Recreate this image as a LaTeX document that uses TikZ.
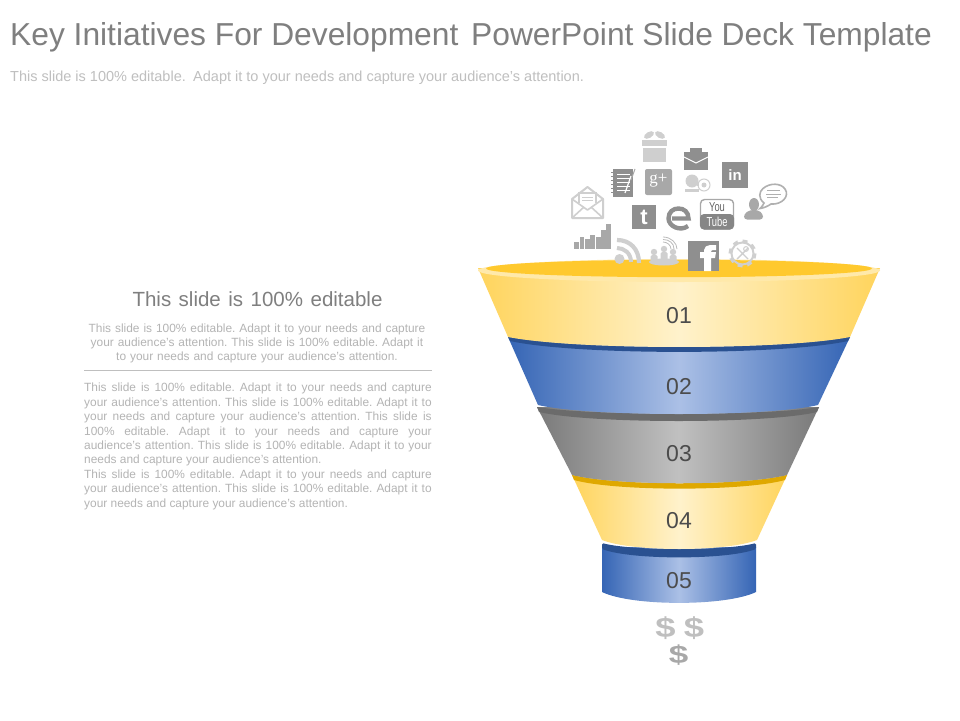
\documentclass[tikz,border=0pt]{standalone}
\usepackage{fontspec}
\usepackage{graphicx}
\setmainfont{Liberation Sans}
\newfontfamily\serifface{Liberation Serif}
\definecolor{ttl}{HTML}{7F7F7F}
\definecolor{sub}{HTML}{BFBFBF}
\definecolor{bodyc}{HTML}{B4B4B4}
\definecolor{ydge}{HTML}{FFD45C}
\definecolor{ymid}{HTML}{FFF2CC}
\definecolor{bdge}{HTML}{3565B5}
\definecolor{bmid}{HTML}{ABC0E6}
\definecolor{gdge}{HTML}{7A7A7A}
\definecolor{gmid}{HTML}{C0C0C0}
\definecolor{icd}{HTML}{8F8F8F}
\definecolor{icm}{HTML}{A8A8A8}
\definecolor{icl}{HTML}{CFCFCF}
\definecolor{lipy}{HTML}{DFA800}
\definecolor{rimy}{HTML}{FFC92E}
\tikzset{
  yband/.style={left color=ydge,right color=ydge,middle color=ymid},
  bband/.style={left color=bdge,right color=bdge,middle color=bmid},
  gband/.style={left color=gdge,right color=gdge,middle color=gmid},
  num/.style={text=black!70,font=\fontsize{23}{23}\selectfont},
  dollar/.style={inner sep=0pt,font=\fontsize{28}{28}\selectfont\bfseries},
  wline/.style={draw=white,line width=1pt},
  para/.style={text=bodyc,font=\fontsize{11.9}{14.4}\selectfont\frenchspacing,inner sep=0pt},
}
\begin{document}
\begin{tikzpicture}[x=1pt,y=-1pt]
\useasboundingbox (0,0) rectangle (960,720);
\fill[white] (0,0) rectangle (960,720);

% title block
\node[anchor=west,inner sep=0pt,text=ttl] (title) at (10,37.5) {\fontsize{31.75}{34}\selectfont Key Initiatives For Development\hspace{4pt} PowerPoint Slide Deck Template};
\node[anchor=west,inner sep=0pt,text=sub] (subtitle) at (10,77.5) {\fontsize{14.5}{16}\selectfont This slide is 100\% editable.\hspace{2pt} Adapt it to your needs and capture your audience’s attention.};

% left text
\node[text=ttl,inner sep=0pt] (head) at (257.5,299.5) {\fontsize{20.5}{22}\selectfont\spaceskip=7.5pt This slide is 100\% editable};
\node[para,text width=340pt,align=center] (lead) at (257,343.5) {This slide is 100\% editable. Adapt it to your needs and capture\\your audience's attention. This slide is 100\% editable. Adapt it\\to your needs and capture your audience's attention.};
\draw[sub,line width=1.2pt] (84,370.5) -- (431.5,370.5);
\node[para,text width=347.5pt,align=justify,anchor=north west] (body) at (84,383) {This slide is 100\% editable. Adapt it to your needs and capture\linebreak your audience's attention. This slide is 100\% editable. Adapt it to\linebreak your needs and capture your audience's attention. This slide is\linebreak 100\% editable. Adapt it to your needs and capture your\linebreak audience's attention. This slide is 100\% editable. Adapt it to your\linebreak needs and capture your audience's attention.\par
This slide is 100\% editable. Adapt it to your needs and capture\linebreak your audience's attention. This slide is 100\% editable. Adapt it to\linebreak your needs and capture your audience's attention.};

% funnel, bottom up
\path[bband] (602,547) -- (602,592) .. controls (632,606.5) and (726,606.5) .. (756,592) -- (756,547) -- cycle;
\fill[bdge!80!black,rounded corners=1.5pt] (602,543) .. controls (632,551) and (726,551) .. (756,543) -- (756,549) .. controls (726,560) and (632,560) .. (602,549) -- cycle;

\path[yband] (572,475) -- (602,540) .. controls (632,552) and (726,552) .. (757,540) -- (787,475) -- cycle;
\fill[fill=lipy] (572,475) .. controls (615,486) and (744,486) .. (787,475) -- (785,480) .. controls (744,491.5) and (615,491.5) .. (574,480) -- cycle;

\path[gband] (537,407) -- (572,475) .. controls (615,486) and (744,486) .. (787,475) -- (819,407) -- cycle;
\fill[black!58] (537,407) .. controls (590,416) and (768,416) .. (819,407) -- (817,412) .. controls (768,424) and (590,424) .. (539,412) -- cycle;

\path[bband] (508,337) -- (538,405) .. controls (590,417) and (768,417) .. (818,405) -- (850,337) -- cycle;
\fill[bdge!80!black] (508,337) .. controls (576,350.3) and (782,350.3) .. (850,337) -- (848,341) .. controls (782,355.5) and (576,355.5) .. (510,341) -- cycle;

\path[yband] (478,268) -- (508,337) .. controls (576,350.3) and (782,350.3) .. (850,337) -- (880,268) -- cycle;
\fill[ymid!70!ydge] (679,270.5) ellipse[x radius=201,y radius=11.5];
\fill[rimy] (679,268.5) ellipse[x radius=193,y radius=8.7];

\node[num] (n1) at (679,316) {01};
\node[num] (n2) at (679,387) {02};
\node[num] (n3) at (679,454) {03};
\node[num] (n4) at (679,521) {04};
\node[num] (n5) at (679,581) {05};

% dollars
\node[dollar,text=sub] (d1) at (665.5,628) {\scalebox{1.3}[1]{\$}};
\node[dollar,text=sub] (d2) at (694,628) {\scalebox{1.3}[1]{\$}};
\node[dollar,text=icm] (d3) at (678.5,655.5) {\scalebox{1.25}[.9]{\$}};

% gift
\fill[icl] (643,148) rectangle (666,162);
\fill[icl] (642,140) rectangle (667,146);
\fill[icl,rotate around={30:(649,135)}] (649,135) ellipse[x radius=5.5,y radius=3];
\fill[icl,rotate around={-30:(660,135)}] (660,135) ellipse[x radius=5.5,y radius=3];

% briefcase
\fill[icd] (684,152) rectangle (708,170);
\fill[icd] (690,148) rectangle (702,152);
\draw[wline] (684,157) -- (696,163) -- (708,157);

% linkedin
\fill[icd] (722,162) rectangle (748,188);
\node[text=white,inner sep=0pt] (lin) at (735,175.5) {\fontsize{15}{15}\selectfont\bfseries in};

% notebook
\fill[icd] (613,169) rectangle (633,197);
\foreach \yy in {172,176,180,184,188,192}{\draw[icd,line width=0.9pt] (611,\yy) -- (615,\yy);}
\foreach \yy in {174,178,182,186,190}{\draw[white,line width=.8pt] (617,\yy) -- (630,\yy);}
\draw[white,line width=1.2pt] (625,193) -- (631,176);
\draw[icm,line width=1pt] (631,180) -- (635,169);

% g+
\fill[icm,rounded corners=2pt] (645,169) rectangle (672,195);
\node[text=white,inner sep=0pt] (gp) at (658.5,181) {\fontsize{17}{17}\serifface g+};

% webcam
\fill[icl] (692,181) circle[radius=6.5];
\draw[icl,line width=1pt] (704,185) circle[radius=6];
\fill[icl] (704,185) circle[radius=2.5];
\draw[icl,line width=1.5pt] (697,185) -- (699,185);
\fill[icl] (685,189) rectangle (699,192);

% envelope
\draw[icl,line width=2pt,line join=round] (572,199) -- (587.5,187) -- (603,199) -- (603,218) -- (572,218) -- cycle;
\draw[icl,line width=1.6pt,line join=round] (572,199) -- (587.5,210) -- (603,199);
\draw[icl,line width=1.2pt] (579,203) -- (579,193) -- (596,193) -- (596,203);
\draw[icl,line width=1pt] (582,197) -- (593,197) (582,200) -- (593,200);
\draw[icl,line width=1.6pt] (572,218) -- (584,207) (603,218) -- (591,207);

% twitter
\fill[icd] (632,205) rectangle (656,229);
\node[text=white,inner sep=0pt] (tw) at (644,217) {\fontsize{22}{22}\selectfont\bfseries t};

% e logo
\draw[icd,line width=4.4pt] (688,226) .. controls (680,232) and (668.5,226) .. (668.5,218.5) .. controls (668.5,212) and (673,208.5) .. (678.5,208.5) .. controls (684,208.5) and (688.5,212) .. (688.5,218.5) -- (672,218.5);

% youtube
\fill[white,draw=icm,line width=1.4pt,rounded corners=4pt] (700.5,199.5) rectangle (733.5,229);
\fill[icm!80!black,rounded corners=4pt] (700,214) rectangle (734,229.5);
\node[text=black!60,inner sep=0pt] (you) at (717,207) {\scalebox{.72}[1]{\fontsize{13}{13}\selectfont You}};
\node[text=white,inner sep=0pt] (tube) at (717,221.5) {\scalebox{.72}[1]{\fontsize{13}{13}\selectfont Tube}};

% person + speech bubble
\fill[icm] (754,204.5) ellipse[x radius=5,y radius=6.5];
\fill[icm,rounded corners=3pt] (744,219.5) -- (744,214) -- (750,210) -- (758,210) -- (763,214) -- (763,219.5) -- cycle;
\draw[icl!85!black,line width=1.6pt,fill=white] (764,203) .. controls (758,198) and (759,192) .. (763,188.5) .. controls (770,182.5) and (781,183) .. (785,189) .. controls (790,196) and (782,205) .. (771,204) .. controls (768,206) and (764,208) .. (760,208.5) .. controls (762,207) and (763,205) .. (764,203) -- cycle;
\draw[icl!85!black,line width=.8pt] (767,190.5) -- (780,190.5) (766,194) -- (781,194) (767,197.5) -- (778,197.5);

% bar chart
\foreach \xx/\hh in {574/7,579.5/12,585/10,590/14,596/12,601/19,606/25}{\fill[icm] (\xx,249) rectangle (\xx+4.5,249-\hh);}

% rss
\fill[icl] (619.5,259) circle[radius=5];
\draw[icl,line width=4pt] (617,248) .. controls (624,248) and (631,253) .. (631,262);
\draw[icl,line width=4.2pt] (617,240) .. controls (630,240) and (639,249) .. (639,263);

% people + signal
\fill[icl] (664,262) ellipse[x radius=15,y radius=3.5];
\foreach \xx/\yt in {654/252,664/249,673/252}{
  \fill[icl] (\xx,\yt) circle[radius=3.2];
  \fill[icl,rounded corners=1.5pt] (\xx-3.5,\yt+3) rectangle (\xx+3.5,264);
}
\draw[icl!90!black,line width=.8pt] (663,242) .. controls (667,242) and (671,245) .. (671,249) (663,239.5) .. controls (669,239.5) and (674,243) .. (674,249) (663,237) .. controls (671,237) and (677,243) .. (677,249);

% facebook
\fill[icd] (688,241) rectangle (719,271);
\fill[white] (704,271) -- (704,258) -- (700,258) -- (700,252) -- (704,252) -- (704,250) .. controls (704,247) and (707,245) .. (710,245) -- (716,245) -- (716,250) -- (713,250) .. controls (711.5,250) and (711,251) .. (711,252) -- (716,252) -- (715,258) -- (711,258) -- (711,271) -- cycle;

% gear
\draw[icl,line width=2.5pt,dash pattern=on 5pt off 5pt] (742.5,253.5) circle[radius=12.8];
\draw[icl,line width=2pt] (742.5,253.5) circle[radius=11];
\draw[icl,line width=1.4pt] (737,248) -- (748,259) (748,248) -- (737,259);
\draw[icl,line width=1pt] (746,249) circle[radius=2.4];
\end{tikzpicture}
\end{document}
